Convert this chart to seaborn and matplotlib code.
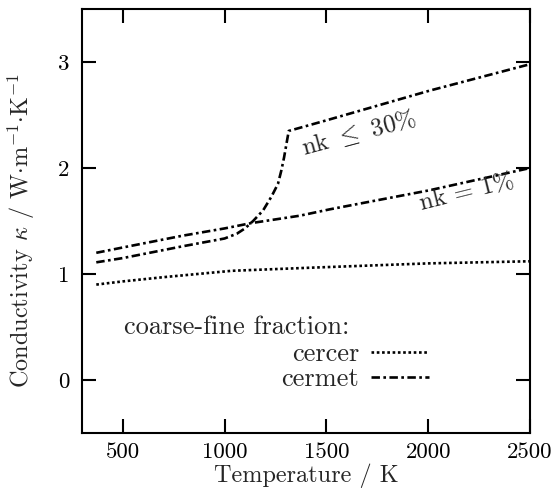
import matplotlib
matplotlib.use("Agg")
import matplotlib.pyplot as plt
import seaborn as sns
import pandas as pd

# ---- data ----
cercer_T = [370, 500, 700, 1035, 1432, 2000, 2500]
cercer_k = [0.90, 0.93, 0.97, 1.03, 1.06, 1.10, 1.12]

nk1_T = [370, 500, 790, 1000, 1130, 1369, 1516, 2006, 2500]
nk1_k = [1.20, 1.25, 1.36, 1.43, 1.48, 1.55, 1.61, 1.79, 2.00]

nk30_T = [370, 500, 790, 1000, 1060, 1100, 1140, 1189, 1230, 1262, 1279, 1292, 1303, 1315, 1500, 2006, 2500]
nk30_k = [1.11, 1.15, 1.26, 1.335, 1.38, 1.43, 1.50, 1.60, 1.73, 1.85, 1.98, 2.10, 2.22, 2.35, 2.45, 2.73, 2.98]

x_ticks = [500, 1000, 1500, 2000, 2500]
y_ticks = [0, 1, 2, 3]

sns.set_style("ticks")
plt.rcParams["font.family"] = ["cmr10", "DejaVu Serif"]
plt.rcParams["mathtext.fontset"] = "cm"
plt.rcParams["axes.formatter.use_mathtext"] = True

fig = plt.figure(figsize=(5.58, 5.04), dpi=100)
ax = fig.add_axes([0.147, 0.141, 0.803, 0.841])

lw = 1.9
dashdot = (0, (3.2, 1.3, 1.0, 1.3))
dotted = (0, (1.0, 1.0))

df_c = pd.DataFrame({"T": cercer_T, "k": cercer_k})
df_1 = pd.DataFrame({"T": nk1_T, "k": nk1_k})
df_30 = pd.DataFrame({"T": nk30_T, "k": nk30_k})

sns.lineplot(data=df_c, x="T", y="k", ax=ax, color="black", lw=lw,
             linestyle=dotted, estimator=None, sort=False)
sns.lineplot(data=df_1, x="T", y="k", ax=ax, color="black", lw=lw,
             linestyle=dashdot, estimator=None, sort=False)
sns.lineplot(data=df_30, x="T", y="k", ax=ax, color="black", lw=lw,
             linestyle=dashdot, estimator=None, sort=False)

ax.set_xlim(300, 2500)
ax.set_ylim(-0.5, 3.5)
ax.set_xticks(x_ticks)
ax.set_yticks(y_ticks)
ax.set_xticklabels([str(v) for v in x_ticks])
ax.set_yticklabels([str(v) for v in y_ticks])
ax.tick_params(direction="in", length=10, width=1.5, top=True, right=True,
               labelsize=16.5, colors="black")
ax.tick_params(axis="x", pad=7)
ax.tick_params(axis="y", pad=9)
for s in ax.spines.values():
    s.set_linewidth(1.5)
    s.set_color("black")

ax.set_xlabel("Temperature / K", fontsize=17.5, labelpad=1)
ax.set_ylabel(r"Conductivity $\kappa$ / W$\cdot$m$^{\mathrm{-1}}$$\cdot$K$^{\mathrm{-1}}$",
              fontsize=17.5)
ax.yaxis.set_label_coords(-0.10, 0.478)

ax.text(1660, 2.33, r"nk $\leq$ 30%", fontsize=18, rotation=15,
        ha="center", va="center", rotation_mode="anchor")
ax.text(2190, 1.77, r"nk = 1%", fontsize=18, rotation=14,
        ha="center", va="center", rotation_mode="anchor")

ax.text(505, 0.50, "coarse-fine fraction:", fontsize=19, ha="left", va="center")

lines = ax.get_lines()
leg = ax.legend(handles=[lines[0], lines[1]], labels=["cercer", "cermet"],
                loc="upper right", bbox_to_anchor=(0.775, 0.213),
                frameon=False, markerfirst=False, fontsize=19,
                handlelength=2.2, handletextpad=0.45, labelspacing=0.05,
                borderpad=0, borderaxespad=0)

fig.savefig("out.png", dpi=100)
